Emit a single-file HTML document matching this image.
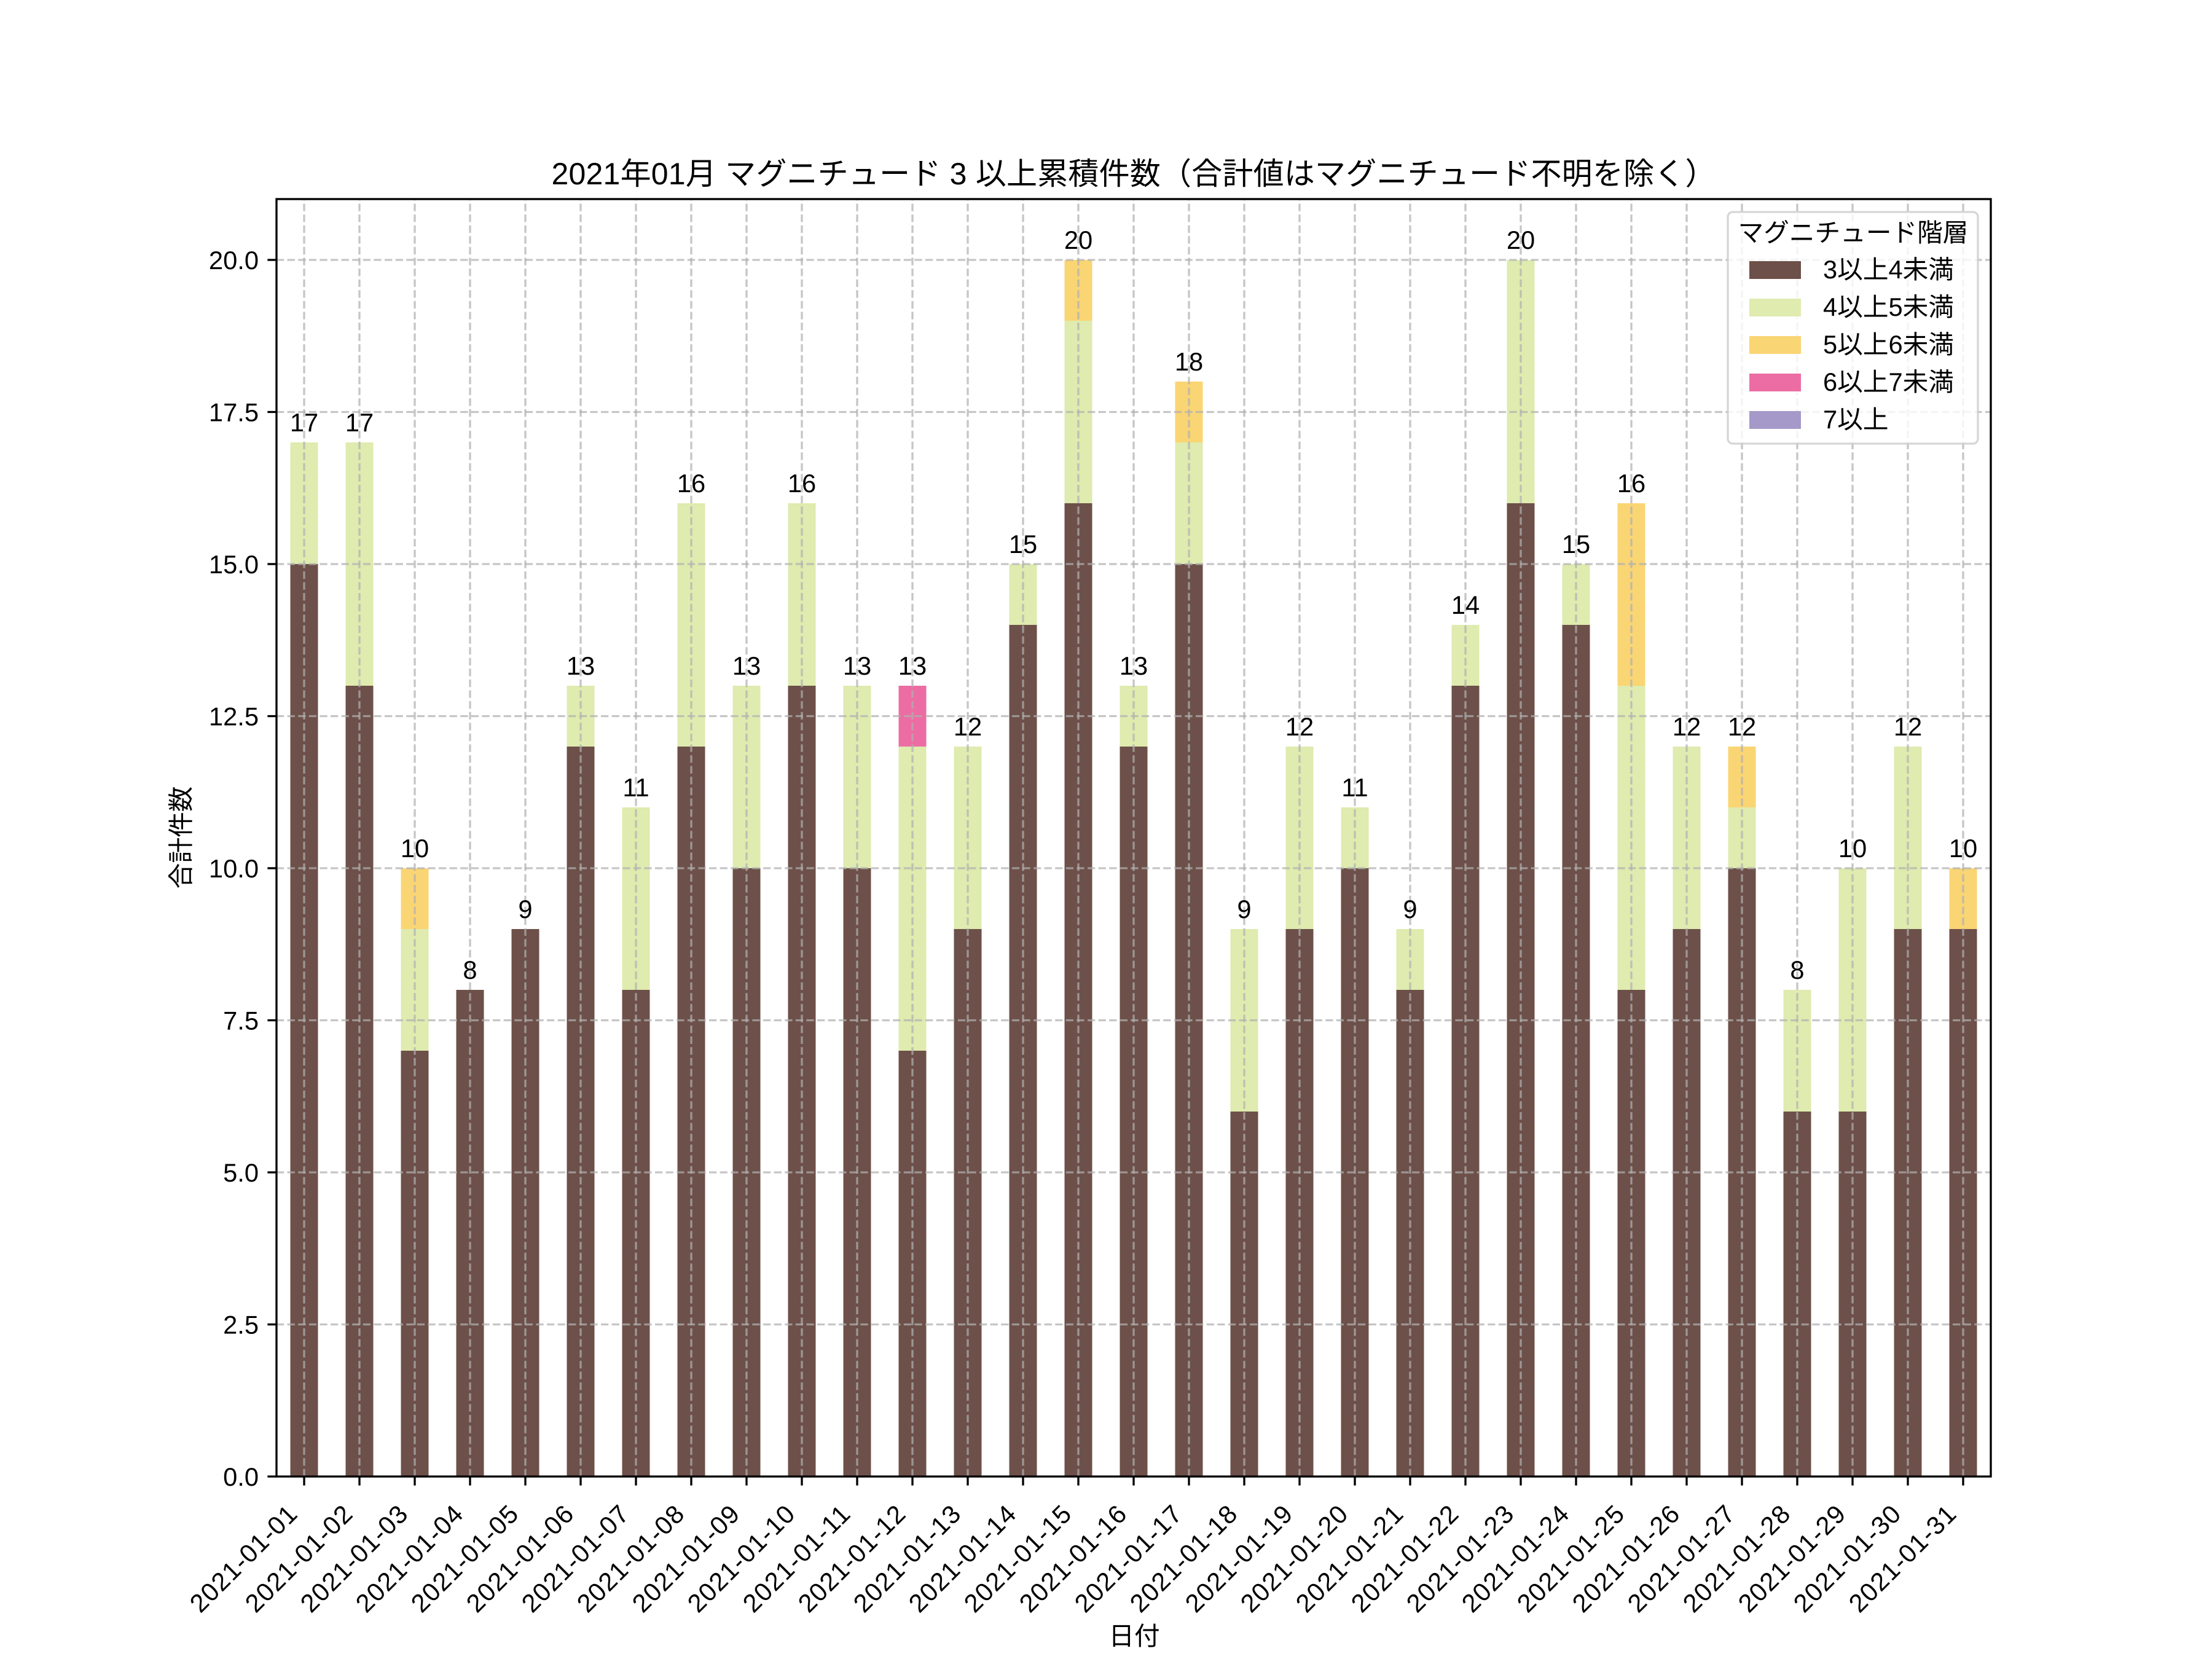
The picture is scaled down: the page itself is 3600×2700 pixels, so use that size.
<!DOCTYPE html>
<html>
<head>
<meta charset="utf-8">
<style>
html,body{margin:0;padding:0;background:#fff;}
svg{display:block;}
text{font-family:"Liberation Sans","Noto Sans CJK JP",sans-serif;fill:#000;}
</style>
</head>
<body>
<svg width="3600" height="2700" viewBox="0 0 3600 2700" xmlns="http://www.w3.org/2000/svg">
<rect x="0" y="0" width="3600" height="2700" fill="#ffffff"/>

<g transform="matrix(90,0,0,-99,495,2403)">
  <g fill="#6d5049">
    <rect x="-0.25" y="0" width="0.5" height="15"/>
    <rect x="0.75" y="0" width="0.5" height="13"/>
    <rect x="1.75" y="0" width="0.5" height="7"/>
    <rect x="2.75" y="0" width="0.5" height="8"/>
    <rect x="3.75" y="0" width="0.5" height="9"/>
    <rect x="4.75" y="0" width="0.5" height="12"/>
    <rect x="5.75" y="0" width="0.5" height="8"/>
    <rect x="6.75" y="0" width="0.5" height="12"/>
    <rect x="7.75" y="0" width="0.5" height="10"/>
    <rect x="8.75" y="0" width="0.5" height="13"/>
    <rect x="9.75" y="0" width="0.5" height="10"/>
    <rect x="10.75" y="0" width="0.5" height="7"/>
    <rect x="11.75" y="0" width="0.5" height="9"/>
    <rect x="12.75" y="0" width="0.5" height="14"/>
    <rect x="13.75" y="0" width="0.5" height="16"/>
    <rect x="14.75" y="0" width="0.5" height="12"/>
    <rect x="15.75" y="0" width="0.5" height="15"/>
    <rect x="16.75" y="0" width="0.5" height="6"/>
    <rect x="17.75" y="0" width="0.5" height="9"/>
    <rect x="18.75" y="0" width="0.5" height="10"/>
    <rect x="19.75" y="0" width="0.5" height="8"/>
    <rect x="20.75" y="0" width="0.5" height="13"/>
    <rect x="21.75" y="0" width="0.5" height="16"/>
    <rect x="22.75" y="0" width="0.5" height="14"/>
    <rect x="23.75" y="0" width="0.5" height="8"/>
    <rect x="24.75" y="0" width="0.5" height="9"/>
    <rect x="25.75" y="0" width="0.5" height="10"/>
    <rect x="26.75" y="0" width="0.5" height="6"/>
    <rect x="27.75" y="0" width="0.5" height="6"/>
    <rect x="28.75" y="0" width="0.5" height="9"/>
    <rect x="29.75" y="0" width="0.5" height="9"/>
  </g>
  <g fill="#dfebaf">
    <rect x="-0.25" y="15" width="0.5" height="2"/>
    <rect x="0.75" y="13" width="0.5" height="4"/>
    <rect x="1.75" y="7" width="0.5" height="2"/>
    <rect x="4.75" y="12" width="0.5" height="1"/>
    <rect x="5.75" y="8" width="0.5" height="3"/>
    <rect x="6.75" y="12" width="0.5" height="4"/>
    <rect x="7.75" y="10" width="0.5" height="3"/>
    <rect x="8.75" y="13" width="0.5" height="3"/>
    <rect x="9.75" y="10" width="0.5" height="3"/>
    <rect x="10.75" y="7" width="0.5" height="5"/>
    <rect x="11.75" y="9" width="0.5" height="3"/>
    <rect x="12.75" y="14" width="0.5" height="1"/>
    <rect x="13.75" y="16" width="0.5" height="3"/>
    <rect x="14.75" y="12" width="0.5" height="1"/>
    <rect x="15.75" y="15" width="0.5" height="2"/>
    <rect x="16.75" y="6" width="0.5" height="3"/>
    <rect x="17.75" y="9" width="0.5" height="3"/>
    <rect x="18.75" y="10" width="0.5" height="1"/>
    <rect x="19.75" y="8" width="0.5" height="1"/>
    <rect x="20.75" y="13" width="0.5" height="1"/>
    <rect x="21.75" y="16" width="0.5" height="4"/>
    <rect x="22.75" y="14" width="0.5" height="1"/>
    <rect x="23.75" y="8" width="0.5" height="5"/>
    <rect x="24.75" y="9" width="0.5" height="3"/>
    <rect x="25.75" y="10" width="0.5" height="1"/>
    <rect x="26.75" y="6" width="0.5" height="2"/>
    <rect x="27.75" y="6" width="0.5" height="4"/>
    <rect x="28.75" y="9" width="0.5" height="3"/>
  </g>
  <g fill="#fad574">
    <rect x="1.75" y="9" width="0.5" height="1"/>
    <rect x="13.75" y="19" width="0.5" height="1"/>
    <rect x="15.75" y="17" width="0.5" height="1"/>
    <rect x="23.75" y="13" width="0.5" height="3"/>
    <rect x="25.75" y="11" width="0.5" height="1"/>
    <rect x="29.75" y="9" width="0.5" height="1"/>
  </g>
  <g fill="#ec6da3">
    <rect x="10.75" y="12" width="0.5" height="1"/>
  </g>
</g>

<g stroke="#b0b0b0" stroke-opacity="0.72" stroke-width="3.33" stroke-dasharray="12.3 5.3" fill="none">
  <line x1="495" y1="2403" x2="495" y2="324"/>
  <line x1="585" y1="2403" x2="585" y2="324"/>
  <line x1="675" y1="2403" x2="675" y2="324"/>
  <line x1="765" y1="2403" x2="765" y2="324"/>
  <line x1="855" y1="2403" x2="855" y2="324"/>
  <line x1="945" y1="2403" x2="945" y2="324"/>
  <line x1="1035" y1="2403" x2="1035" y2="324"/>
  <line x1="1125" y1="2403" x2="1125" y2="324"/>
  <line x1="1215" y1="2403" x2="1215" y2="324"/>
  <line x1="1305" y1="2403" x2="1305" y2="324"/>
  <line x1="1395" y1="2403" x2="1395" y2="324"/>
  <line x1="1485" y1="2403" x2="1485" y2="324"/>
  <line x1="1575" y1="2403" x2="1575" y2="324"/>
  <line x1="1665" y1="2403" x2="1665" y2="324"/>
  <line x1="1755" y1="2403" x2="1755" y2="324"/>
  <line x1="1845" y1="2403" x2="1845" y2="324"/>
  <line x1="1935" y1="2403" x2="1935" y2="324"/>
  <line x1="2025" y1="2403" x2="2025" y2="324"/>
  <line x1="2115" y1="2403" x2="2115" y2="324"/>
  <line x1="2205" y1="2403" x2="2205" y2="324"/>
  <line x1="2295" y1="2403" x2="2295" y2="324"/>
  <line x1="2385" y1="2403" x2="2385" y2="324"/>
  <line x1="2475" y1="2403" x2="2475" y2="324"/>
  <line x1="2565" y1="2403" x2="2565" y2="324"/>
  <line x1="2655" y1="2403" x2="2655" y2="324"/>
  <line x1="2745" y1="2403" x2="2745" y2="324"/>
  <line x1="2835" y1="2403" x2="2835" y2="324"/>
  <line x1="2925" y1="2403" x2="2925" y2="324"/>
  <line x1="3015" y1="2403" x2="3015" y2="324"/>
  <line x1="3105" y1="2403" x2="3105" y2="324"/>
  <line x1="3195" y1="2403" x2="3195" y2="324"/>
  <line x1="450" y1="2155.5" x2="3240" y2="2155.5"/>
  <line x1="450" y1="1908" x2="3240" y2="1908"/>
  <line x1="450" y1="1660.5" x2="3240" y2="1660.5"/>
  <line x1="450" y1="1413" x2="3240" y2="1413"/>
  <line x1="450" y1="1165.5" x2="3240" y2="1165.5"/>
  <line x1="450" y1="918" x2="3240" y2="918"/>
  <line x1="450" y1="670.5" x2="3240" y2="670.5"/>
  <line x1="450" y1="423" x2="3240" y2="423"/>
</g>

<rect x="450" y="324" width="2790" height="2079" fill="none" stroke="#000" stroke-width="3.33" stroke-linejoin="miter"/>

<g stroke="#000" stroke-width="3.33">
  <line x1="435.4" y1="2403" x2="450" y2="2403"/>
  <line x1="435.4" y1="2155.5" x2="450" y2="2155.5"/>
  <line x1="435.4" y1="1908" x2="450" y2="1908"/>
  <line x1="435.4" y1="1660.5" x2="450" y2="1660.5"/>
  <line x1="435.4" y1="1413" x2="450" y2="1413"/>
  <line x1="435.4" y1="1165.5" x2="450" y2="1165.5"/>
  <line x1="435.4" y1="918" x2="450" y2="918"/>
  <line x1="435.4" y1="670.5" x2="450" y2="670.5"/>
  <line x1="435.4" y1="423" x2="450" y2="423"/>
</g>
<g font-size="41.67" text-anchor="end">
  <text x="421" y="2418">0.0</text>
  <text x="421" y="2170.5">2.5</text>
  <text x="421" y="1923">5.0</text>
  <text x="421" y="1675.5">7.5</text>
  <text x="421" y="1428">10.0</text>
  <text x="421" y="1180.5">12.5</text>
  <text x="421" y="933">15.0</text>
  <text x="421" y="685.5">17.5</text>
  <text x="421" y="438">20.0</text>
</g>

<g stroke="#000" stroke-width="3.33">
  <line x1="495" y1="2403" x2="495" y2="2417.6"/>
  <line x1="585" y1="2403" x2="585" y2="2417.6"/>
  <line x1="675" y1="2403" x2="675" y2="2417.6"/>
  <line x1="765" y1="2403" x2="765" y2="2417.6"/>
  <line x1="855" y1="2403" x2="855" y2="2417.6"/>
  <line x1="945" y1="2403" x2="945" y2="2417.6"/>
  <line x1="1035" y1="2403" x2="1035" y2="2417.6"/>
  <line x1="1125" y1="2403" x2="1125" y2="2417.6"/>
  <line x1="1215" y1="2403" x2="1215" y2="2417.6"/>
  <line x1="1305" y1="2403" x2="1305" y2="2417.6"/>
  <line x1="1395" y1="2403" x2="1395" y2="2417.6"/>
  <line x1="1485" y1="2403" x2="1485" y2="2417.6"/>
  <line x1="1575" y1="2403" x2="1575" y2="2417.6"/>
  <line x1="1665" y1="2403" x2="1665" y2="2417.6"/>
  <line x1="1755" y1="2403" x2="1755" y2="2417.6"/>
  <line x1="1845" y1="2403" x2="1845" y2="2417.6"/>
  <line x1="1935" y1="2403" x2="1935" y2="2417.6"/>
  <line x1="2025" y1="2403" x2="2025" y2="2417.6"/>
  <line x1="2115" y1="2403" x2="2115" y2="2417.6"/>
  <line x1="2205" y1="2403" x2="2205" y2="2417.6"/>
  <line x1="2295" y1="2403" x2="2295" y2="2417.6"/>
  <line x1="2385" y1="2403" x2="2385" y2="2417.6"/>
  <line x1="2475" y1="2403" x2="2475" y2="2417.6"/>
  <line x1="2565" y1="2403" x2="2565" y2="2417.6"/>
  <line x1="2655" y1="2403" x2="2655" y2="2417.6"/>
  <line x1="2745" y1="2403" x2="2745" y2="2417.6"/>
  <line x1="2835" y1="2403" x2="2835" y2="2417.6"/>
  <line x1="2925" y1="2403" x2="2925" y2="2417.6"/>
  <line x1="3015" y1="2403" x2="3015" y2="2417.6"/>
  <line x1="3105" y1="2403" x2="3105" y2="2417.6"/>
  <line x1="3195" y1="2403" x2="3195" y2="2417.6"/>
</g>
<g font-size="41.67" text-anchor="end">
  <text transform="translate(486,2467) rotate(-45)" textLength="226" lengthAdjust="spacing">2021-01-01</text>
  <text transform="translate(576,2467) rotate(-45)" textLength="226" lengthAdjust="spacing">2021-01-02</text>
  <text transform="translate(666,2467) rotate(-45)" textLength="226" lengthAdjust="spacing">2021-01-03</text>
  <text transform="translate(756,2467) rotate(-45)" textLength="226" lengthAdjust="spacing">2021-01-04</text>
  <text transform="translate(846,2467) rotate(-45)" textLength="226" lengthAdjust="spacing">2021-01-05</text>
  <text transform="translate(936,2467) rotate(-45)" textLength="226" lengthAdjust="spacing">2021-01-06</text>
  <text transform="translate(1026,2467) rotate(-45)" textLength="226" lengthAdjust="spacing">2021-01-07</text>
  <text transform="translate(1116,2467) rotate(-45)" textLength="226" lengthAdjust="spacing">2021-01-08</text>
  <text transform="translate(1206,2467) rotate(-45)" textLength="226" lengthAdjust="spacing">2021-01-09</text>
  <text transform="translate(1296,2467) rotate(-45)" textLength="226" lengthAdjust="spacing">2021-01-10</text>
  <text transform="translate(1386,2467) rotate(-45)" textLength="226" lengthAdjust="spacing">2021-01-11</text>
  <text transform="translate(1476,2467) rotate(-45)" textLength="226" lengthAdjust="spacing">2021-01-12</text>
  <text transform="translate(1566,2467) rotate(-45)" textLength="226" lengthAdjust="spacing">2021-01-13</text>
  <text transform="translate(1656,2467) rotate(-45)" textLength="226" lengthAdjust="spacing">2021-01-14</text>
  <text transform="translate(1746,2467) rotate(-45)" textLength="226" lengthAdjust="spacing">2021-01-15</text>
  <text transform="translate(1836,2467) rotate(-45)" textLength="226" lengthAdjust="spacing">2021-01-16</text>
  <text transform="translate(1926,2467) rotate(-45)" textLength="226" lengthAdjust="spacing">2021-01-17</text>
  <text transform="translate(2016,2467) rotate(-45)" textLength="226" lengthAdjust="spacing">2021-01-18</text>
  <text transform="translate(2106,2467) rotate(-45)" textLength="226" lengthAdjust="spacing">2021-01-19</text>
  <text transform="translate(2196,2467) rotate(-45)" textLength="226" lengthAdjust="spacing">2021-01-20</text>
  <text transform="translate(2286,2467) rotate(-45)" textLength="226" lengthAdjust="spacing">2021-01-21</text>
  <text transform="translate(2376,2467) rotate(-45)" textLength="226" lengthAdjust="spacing">2021-01-22</text>
  <text transform="translate(2466,2467) rotate(-45)" textLength="226" lengthAdjust="spacing">2021-01-23</text>
  <text transform="translate(2556,2467) rotate(-45)" textLength="226" lengthAdjust="spacing">2021-01-24</text>
  <text transform="translate(2646,2467) rotate(-45)" textLength="226" lengthAdjust="spacing">2021-01-25</text>
  <text transform="translate(2736,2467) rotate(-45)" textLength="226" lengthAdjust="spacing">2021-01-26</text>
  <text transform="translate(2826,2467) rotate(-45)" textLength="226" lengthAdjust="spacing">2021-01-27</text>
  <text transform="translate(2916,2467) rotate(-45)" textLength="226" lengthAdjust="spacing">2021-01-28</text>
  <text transform="translate(3006,2467) rotate(-45)" textLength="226" lengthAdjust="spacing">2021-01-29</text>
  <text transform="translate(3096,2467) rotate(-45)" textLength="226" lengthAdjust="spacing">2021-01-30</text>
  <text transform="translate(3186,2467) rotate(-45)" textLength="226" lengthAdjust="spacing">2021-01-31</text>
</g>

<g font-size="41.67" text-anchor="middle">
  <text x="495" y="702">17</text>
  <text x="585" y="702">17</text>
  <text x="675" y="1395">10</text>
  <text x="765" y="1593">8</text>
  <text x="855" y="1494">9</text>
  <text x="945" y="1098">13</text>
  <text x="1035" y="1296">11</text>
  <text x="1125" y="801">16</text>
  <text x="1215" y="1098">13</text>
  <text x="1305" y="801">16</text>
  <text x="1395" y="1098">13</text>
  <text x="1485" y="1098">13</text>
  <text x="1575" y="1197">12</text>
  <text x="1665" y="900">15</text>
  <text x="1755" y="405">20</text>
  <text x="1845" y="1098">13</text>
  <text x="1935" y="603">18</text>
  <text x="2025" y="1494">9</text>
  <text x="2115" y="1197">12</text>
  <text x="2205" y="1296">11</text>
  <text x="2295" y="1494">9</text>
  <text x="2385" y="999">14</text>
  <text x="2475" y="405">20</text>
  <text x="2565" y="900">15</text>
  <text x="2655" y="801">16</text>
  <text x="2745" y="1197">12</text>
  <text x="2835" y="1197">12</text>
  <text x="2925" y="1593">8</text>
  <text x="3015" y="1395">10</text>
  <text x="3105" y="1197">12</text>
  <text x="3195" y="1395">10</text>
</g>

<text x="1845" y="300" font-size="50" text-anchor="middle" textLength="1895" lengthAdjust="spacing">2021年01月 マグニチュード 3 以上累積件数（合計値はマグニチュード不明を除く）</text>
<text x="1846" y="2677" font-size="41.67" text-anchor="middle">日付</text>
<text transform="translate(309,1363) rotate(-90)" font-size="41.67" text-anchor="middle">合計件数</text>

<rect x="2812" y="345" width="407" height="377" rx="8" ry="8" fill="#ffffff" fill-opacity="0.8" stroke="#cccccc" stroke-opacity="0.8" stroke-width="3.33"/>
<text x="3016" y="393" font-size="41.67" text-anchor="middle">マグニチュード階層</text>
<rect x="2847" y="425" width="84" height="29" fill="#6d5049"/>
<rect x="2847" y="486" width="84" height="29" fill="#dfebaf"/>
<rect x="2847" y="547" width="84" height="29" fill="#fad574"/>
<rect x="2847" y="608" width="84" height="29" fill="#ec6da3"/>
<rect x="2847" y="669" width="84" height="29" fill="#a599c9"/>
<g font-size="41.67">
  <text x="2967" y="453">3以上4未満</text>
  <text x="2967" y="514">4以上5未満</text>
  <text x="2967" y="575">5以上6未満</text>
  <text x="2967" y="636">6以上7未満</text>
  <text x="2967" y="697">7以上</text>
</g>
</svg>
</body>
</html>
